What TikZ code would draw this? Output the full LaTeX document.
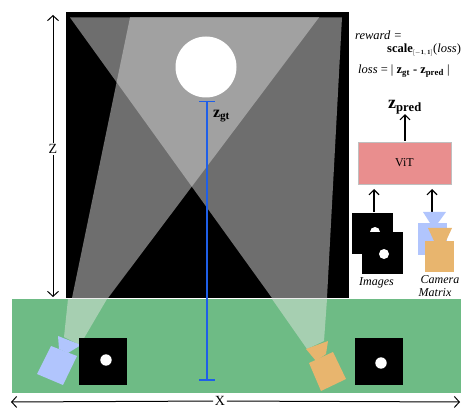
\documentclass[tikz,border=0pt]{standalone}
\usepackage{fontspec}
\setmainfont{Liberation Serif}
\usetikzlibrary{arrows.meta}
\definecolor{grn}{HTML}{6EBB85}
\definecolor{grnlight}{HTML}{A6CFB1}
\definecolor{camblue}{HTML}{B1C5FD}
\definecolor{camorange}{HTML}{E8B56E}
\definecolor{vitred}{HTML}{E98E8E}
\definecolor{zblue}{HTML}{1F5FE8}
\definecolor{beamone}{gray}{0.43}
\definecolor{beamtwo}{gray}{0.63}
\tikzset{
  blackarrow/.style={draw=black,line width=1.1pt,-{Straight Barb[length=5pt,width=10pt,line width=1.1pt]}},
  dimstart/.style={draw=black,line width=1pt,{Straight Barb[length=5pt,width=11pt,line width=1pt]}-},
  dimend/.style={draw=black,line width=1pt,-{Straight Barb[length=5pt,width=11pt,line width=1pt]}},
  blueline/.style={draw=zblue,line width=1.4pt},
  dimlab/.style={inner sep=1.5pt,font=\fontsize{14}{15}\selectfont},
  lab/.style={inner sep=1pt,font=\fontsize{12.5}{13.5}\selectfont},
  itlab/.style={inner sep=0pt,font=\fontsize{12}{13}\selectfont\itshape,align=center},
}
\begin{document}
\begin{tikzpicture}[x=1pt,y=-1pt]
\useasboundingbox (0,0) rectangle (461,409);
% scene
\fill[black] (66,12) rectangle (349,298);
\fill[beamone] (72,298) -- (130,17.5) -- (319,17.5) -- (108,298) -- cycle;
\fill[beamone] (272,298) -- (70,17.5) -- (342,17.5) -- (327,298) -- cycle;
\begin{scope}
  \clip (72,298) -- (130,17.5) -- (319,17.5) -- (108,298) -- cycle;
  \fill[beamtwo] (272,298) -- (70,17.5) -- (342,17.5) -- (327,298) -- cycle;
\end{scope}
\fill[white] (206,67) circle (30.5);
% ground
\fill[grn] (12,299) rectangle (461,393);
\fill[grnlight] (68,299) -- (107,299) -- (80,345) -- (64,337) -- cycle;
\fill[grnlight] (272,299) -- (327,299) -- (324,341) -- (307,349) -- cycle;
% cameras
\fill[camblue] (51,346) -- (77,356) -- (63,385) -- (37,374) -- cycle;
\fill[camblue] (58,336) -- (81,345) -- (68,353) -- (59,349) -- cycle;
\fill[camorange] (309,363) -- (333,352) -- (346,379) -- (321,391) -- cycle;
\fill[camorange] (306,349) -- (328,341) -- (326,354) -- (316,361) -- cycle;
% small views
\fill[black] (79,338) rectangle (127,385);
\fill[white] (106,360) circle (5.7);
\fill[black] (355,338) rectangle (403,385);
\fill[white] (381,363) circle (5.7);
% ground truth
\coordinate (ztop) at (207,101.5);
\coordinate (zbot) at (207,380);
\draw[blueline] (ztop) -- (zbot);
\draw[blueline] (199,101.5) -- (215,101.5);
\draw[blueline] (199,380) -- (215,380);
\node[inner sep=0pt,font=\fontsize{16}{17}\selectfont] (zgt) at (221.5,116) {$\mathbf{z}_{\mathbf{gt}}$};
% dimensions
\coordinate (zup) at (53,15);
\coordinate (zdown) at (53,297);
\node[dimlab] (zlab) at (53,149) {Z};
\draw[dimstart] (zup) -- (zlab);
\draw[dimend] (zlab) -- (zdown);
\coordinate (xleft) at (11,402);
\coordinate (xright) at (460,402);
\node[dimlab] (xlab) at (220,401) {X};
\draw[dimstart] (xleft) -- (xlab);
\draw[dimend] (xlab) -- (xright);
% formulas
\node[lab,anchor=west] (reward) at (354,35) {\itshape reward =};
\node[lab,anchor=west] (scale) at (386,50) {\textbf{scale}$_{\scriptscriptstyle\mathbf{[-1,\,1]}}$(\textit{loss})};
\node[lab,anchor=west] (loss) at (357,71) {\textit{loss} = | $\mathbf{z}_{\mathbf{gt}}$ \textbf{-} $\mathbf{z}_{\mathbf{pred}}$ |};
% model
\node[draw=black!25,line width=0.4pt,fill=vitred,minimum width=93pt,minimum height=42pt,inner sep=0pt,font=\fontsize{12}{13}\selectfont] (vit) at (404.5,163) {ViT};
\node[inner sep=0pt,font=\fontsize{18}{19}\selectfont] (zpred) at (405,107) {$\mathbf{z}_{\mathbf{pred}}$};
\draw[blackarrow] (vit.north -| zpred) ++(0,-1) coordinate (vitup) -- (zpred.south);
% images
\fill[black] (352,213) rectangle (393,254);
\fill[white] (375,232) circle (5);
\node[fill=black,minimum width=41pt,minimum height=42pt,inner sep=0pt] (imgs) at (382.5,253) {};
\fill[white] (384,254) circle (5);
\node[itlab] (imglab) at (376.5,283) {Images};
\coordinate (imgtop) at (374,212);
\coordinate (camtop) at (432,212);
\coordinate (vita) at (374,189);
\coordinate (vitb) at (432,189);
\draw[blackarrow] (imgtop) -- (vita);
\draw[blackarrow] (camtop) -- (vitb);
% camera stack
\fill[camblue] (423,212) -- (446,212) -- (438,223) -- (430,223) -- cycle;
\fill[camblue] (418,223) rectangle (447,255);
\fill[camorange] (428,228) -- (452,228) -- (446,241) -- (434,241) -- cycle;
\fill[camorange] (425,241) rectangle (454,272);
\node[itlab] (camlab) at (440,280) {Camera};
\node[itlab] (matlab) at (435,292.5) {Matrix};
\end{tikzpicture}
\end{document}
